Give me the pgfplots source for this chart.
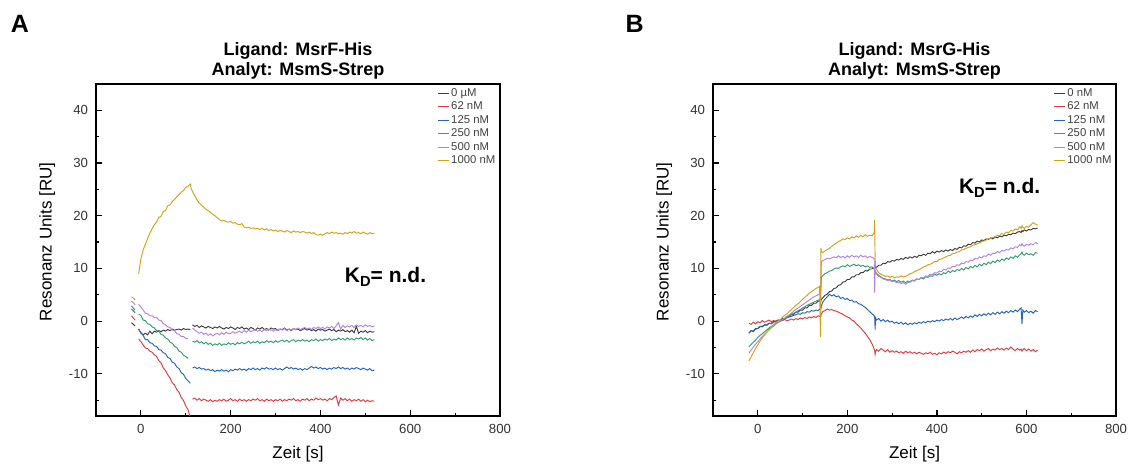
\documentclass[border=0pt]{standalone}
\usepackage{pgfplots}
\pgfplotsset{compat=1.18}
\usepackage{pgfplotstable}
\usepackage{fontspec}
\setmainfont{Liberation Sans}
\newcommand\fs[1]{\fontsize{#1}{#1}\selectfont}
\definecolor{ck}{HTML}{3C3C3C}
\definecolor{cr}{HTML}{E0393E}
\definecolor{cb}{HTML}{2262C2}
\definecolor{cg}{HTML}{2E9E6B}
\definecolor{cp}{HTML}{B480E4}
\definecolor{cy}{HTML}{D4A017}

\pgfplotstableread{
t k0 k62 k125 k250 k500 k1000
-21 -0.3 1.0 2.3 2.9 3.8 4.6
-17 -0.6 0.6 2.0 2.5 3.5 4.4
-13 -0.9 0.2 1.6 2.1 3.1 4.0
-9 nan nan nan nan nan nan
-5 -1.5 -3.4 -1.5 1.3 3.2 9.0
0 -2.2 -3.9 -2.3 1.1 2.7 11.8
5 -2.6 -4.5 -2.7 0.2 2.1 13.5
10 -2.3 -5.1 -3.5 0.1 1.5 14.6
15 -2.6 -5.2 -3.5 -0.5 1.4 15.7
20 -1.9 -5.7 -4.1 -0.6 1.0 16.7
25 -2.4 -5.9 -4.2 -1.1 1.0 17.5
30 -1.9 -6.4 -4.7 -1.3 0.7 18.3
35 -2.1 -6.7 -4.8 -1.8 0.7 18.8
40 -1.8 -7.5 -5.4 -1.9 0.2 19.7
45 -2.0 -7.9 -5.5 -2.5 0.1 19.9
50 -1.7 -8.9 -6.0 -2.7 -0.5 20.8
55 -1.9 -9.4 -6.2 -3.2 -0.7 21.0
60 -1.6 -10.2 -6.9 -3.4 -1.1 21.9
65 -1.8 -10.8 -7.1 -4.0 -1.2 22.1
70 -1.5 -11.7 -7.8 -4.2 -1.7 22.7
75 -1.7 -12.1 -8.0 -4.8 -1.8 23.1
80 -1.6 -13.0 -8.7 -5.0 -2.4 23.6
85 -1.5 -13.5 -9.0 -5.7 -2.5 24.0
90 -1.7 -14.5 -9.8 -5.9 -2.9 24.5
95 -1.4 -15.1 -10.1 -6.5 -2.9 24.8
100 -1.6 -16.1 -10.9 -6.7 -3.3 25.4
105 -1.5 -16.8 -11.3 -7.1 -3.3 25.6
110 -1.6 -18.3 -11.8 nan nan 26.0
112 nan nan nan nan nan 25.2
115 -0.7 -14.8 -8.9 -3.8 -1.3 24.6
120 -1.0 -14.6 -8.7 -4.0 -1.7 23.8
125 -0.8 -15.0 -9.0 -3.7 -2.0 23.0
130 -1.2 -14.7 -8.8 -4.1 -2.3 22.4
135 -0.9 -15.1 -9.1 -3.9 -2.1 22.0
140 -1.1 -14.8 -9.0 -4.3 -2.5 21.6
145 -1.3 -15.0 -9.3 -4.0 -2.3 21.2
150 -1.0 -15.2 -9.1 -4.4 -2.7 21.0
155 -1.2 -14.9 -9.4 -4.2 -2.4 20.6
160 -1.4 -15.3 -9.2 -4.6 -2.8 20.3
165 -1.1 -15.0 -9.6 -4.3 -2.5 20.0
170 -1.3 -15.2 -9.3 -4.5 -2.3 19.6
175 -1.0 -14.9 -9.5 -4.2 -2.6 19.3
180 -1.3 -15.1 -9.2 -4.6 -2.2 19.0
185 -1.5 -14.8 -9.5 -4.3 -2.5 19.1
190 -1.2 -15.2 -9.3 -4.5 -2.1 18.9
195 -1.4 -15.0 -9.6 -4.1 -2.4 18.8
200 -1.1 -14.7 -9.2 -4.4 -2.3 18.9
205 -1.3 -15.1 -9.4 -4.2 -2.0 18.6
210 -1.6 -14.9 -9.1 -4.5 -2.3 18.7
215 -1.2 -15.2 -9.3 -4.1 -2.1 18.4
220 -1.4 -14.8 -9.0 -4.3 -1.9 18.3
225 -1.1 -15.1 -9.3 -4.0 -2.2 18.5
230 -1.5 -14.9 -9.1 -4.3 -1.8 17.9
235 -1.3 -15.2 -9.4 -4.1 -2.1 17.7
240 -1.6 -14.9 -9.0 -3.8 -1.7 17.8
245 -1.2 -15.1 -9.2 -4.2 -2.0 17.6
250 -1.4 -14.8 -8.9 -3.9 -1.8 17.7
255 -1.7 -15.0 -9.2 -4.1 -1.6 17.5
260 -1.3 -14.7 -9.0 -3.8 -1.9 17.6
265 -1.5 -15.1 -9.3 -4.2 -1.7 17.4
270 -1.2 -14.9 -8.9 -3.9 -2.0 17.6
275 -1.6 -15.2 -9.1 -4.1 -1.6 17.3
280 -1.4 -14.8 -8.8 -3.7 -1.8 17.5
285 -1.7 -15.1 -9.1 -4.0 -1.5 17.2
290 -1.3 -14.9 -9.0 -3.8 -1.7 17.4
295 -1.5 -15.2 -9.2 -4.1 -1.9 17.1
300 -1.4 -14.9 -8.9 -3.7 -1.6 17.3
305 -1.8 -15.1 -9.2 -4.0 -1.8 17.0
310 -1.5 -14.8 -9.0 -3.8 -1.5 17.2
315 -1.6 -15.2 -9.3 -3.6 -1.7 17.1
320 -1.3 -14.9 -9.0 -3.9 -1.4 16.9
325 -1.7 -15.1 -8.7 -3.6 -1.8 17.2
330 -1.5 -14.8 -9.0 -4.0 -1.5 17.0
335 -1.8 -15.0 -8.8 -3.7 -1.7 16.8
340 -1.4 -14.7 -9.1 -3.5 -1.4 17.1
345 -1.6 -15.1 -8.9 -3.9 -1.6 16.9
350 -1.5 -14.9 -9.2 -3.6 -1.3 17.0
355 -1.8 -15.2 -9.0 -3.8 -1.6 16.8
360 -1.6 -14.8 -9.3 -3.5 -1.4 17.0
365 -1.4 -15.0 -9.0 -3.8 -1.2 16.9
370 -1.7 -14.7 -9.2 -3.6 -1.5 16.7
375 -1.5 -15.1 -8.9 -3.9 -1.3 16.9
380 -1.8 -14.8 -8.6 -3.5 -1.6 16.6
385 -1.6 -15.0 -8.9 -3.7 -1.2 16.8
390 -1.9 -14.6 -8.7 -3.4 -1.4 16.4
395 -1.5 -14.9 -9.0 -3.8 -1.1 16.3
400 -1.7 -14.7 -8.8 -3.5 -1.4 16.5
405 -1.6 -15.0 -9.1 -3.7 -1.2 16.3
410 -1.9 -14.8 -8.9 -3.4 -1.5 16.6
415 -1.7 -15.1 -9.2 -3.6 -1.1 16.8
420 -1.5 -14.7 -8.9 -3.3 -1.3 16.6
425 -1.8 -14.9 -9.1 -3.7 -1.0 16.9
430 -1.6 -14.5 -8.8 -3.4 -1.4 16.7
435 -2.0 -14.2 -9.0 -3.6 -0.9 16.8
440 -1.7 -15.9 -8.7 -3.2 -0.3 16.6
445 -1.9 -14.6 -9.0 -3.5 -1.5 16.7
450 -1.6 -15.0 -8.8 -3.3 -0.8 16.5
455 -2.0 -14.7 -9.1 -3.6 -1.2 16.8
460 -1.8 -15.1 -8.9 -3.2 -0.9 16.6
465 -2.1 -14.8 -9.2 -3.5 -1.1 16.9
470 -1.7 -15.2 -8.9 -3.3 -0.8 16.7
475 -2.2 -14.9 -9.1 -3.6 -1.2 17.0
480 -1.0 -15.1 -8.8 -3.2 -0.7 16.7
485 -2.3 -14.8 -9.0 -3.4 -1.0 16.8
490 -1.9 -15.2 -9.2 -3.1 -0.8 16.6
495 -2.1 -14.9 -8.9 -3.5 -1.1 16.9
500 -1.8 -15.3 -9.1 -3.2 -0.7 16.7
505 -2.2 -15.0 -9.3 -3.6 -1.0 16.5
510 -1.9 -15.3 -9.0 -3.3 -0.8 16.8
515 -2.1 -15.1 -9.4 -3.7 -1.1 16.6
520 -2.0 -15.2 -9.3 -3.5 -0.9 16.6
}\dataA

\pgfplotstableread{
t k0 k62 k125 k250 k500 k1000
-20 -2.3 -0.4 -2.3 -4.9 -6.1 -7.6
-15 -1.8 -0.6 -1.8 -4.4 -5.5 -6.8
-10 -1.9 -0.2 -2.0 -4.0 -4.9 -6.0
-5 -1.4 -0.5 -1.5 -3.6 -4.4 -5.2
0 -1.4 -0.1 -1.4 -3.1 -3.9 -4.5
5 -1.0 -0.3 -1.0 -2.7 -3.4 -3.8
10 -1.0 0.1 -1.1 -2.4 -2.9 -3.2
15 -0.7 -0.2 -0.7 -2.0 -2.5 -2.6
20 -0.7 0.0 -0.8 -1.7 -2.1 -2.1
25 -0.4 0.2 -0.4 -1.3 -1.7 -1.6
30 -0.4 -0.1 -0.5 -1.0 -1.3 -1.1
35 -0.1 0.1 -0.2 -0.7 -1.0 -0.7
40 -0.1 0.0 0.0 -0.4 -0.6 -0.3
45 0.2 0.2 0.1 -0.2 -0.3 0.0
50 0.2 0.0 0.2 0.0 0.0 0.3
55 0.5 0.1 0.3 0.2 0.3 0.7
60 0.5 0.3 0.5 0.5 0.6 1.1
65 0.9 0.1 0.6 0.7 0.9 1.4
70 0.9 0.2 0.8 1.0 1.2 1.8
75 1.3 0.4 0.9 1.2 1.5 2.2
80 1.3 0.2 1.1 1.5 1.9 2.6
85 1.7 0.5 1.2 1.7 2.2 3.0
90 1.7 0.3 1.4 2.0 2.5 3.3
95 2.1 0.6 1.3 2.2 2.8 3.7
100 2.1 0.4 1.6 2.5 3.1 4.1
105 2.5 0.7 1.5 2.7 3.4 4.5
110 2.5 0.5 1.8 3.0 3.7 4.9
115 3.0 0.8 1.7 3.2 4.0 5.3
120 3.0 0.6 2.0 3.4 4.3 5.6
125 3.4 0.9 1.9 3.6 4.6 5.9
130 3.4 0.7 2.1 3.8 4.8 6.2
135 3.8 1.0 2.0 4.0 5.0 6.4
138 3.8 0.9 2.3 4.1 5.2 6.6
140 4.1 1.1 2.2 4.3 5.3 -3.0
141 3.9 1.0 2.4 6.0 8.0 13.9
142 4.2 1.4 2.9 8.4 11.3 13.2
145 4.4 1.8 3.6 8.6 11.5 13.0
150 4.9 2.0 4.2 9.0 11.7 13.3
155 5.1 2.3 4.6 9.2 11.9 13.6
160 5.6 2.1 5.1 9.5 11.8 13.8
165 5.7 2.2 4.8 9.6 12.0 14.2
170 6.2 2.0 5.0 9.9 12.2 14.5
175 6.3 1.9 4.6 10.1 12.0 14.8
180 6.8 1.7 4.8 10.0 12.4 15.1
185 6.9 1.5 4.3 10.3 12.1 15.3
190 7.4 1.3 4.5 10.5 12.3 15.6
195 7.5 1.0 4.1 10.3 12.0 15.5
200 7.9 0.8 4.3 10.7 12.4 15.8
205 7.9 0.6 3.9 10.4 12.1 15.6
210 8.4 0.2 4.0 10.6 12.5 16.0
215 8.4 0.0 3.6 10.8 12.2 15.8
220 8.8 -0.5 3.7 10.5 12.4 16.2
225 8.8 -0.9 3.3 10.7 12.1 15.9
230 9.2 -1.3 3.2 10.4 12.5 16.3
235 9.2 -1.8 2.9 10.6 12.2 16.0
240 9.6 -2.3 2.6 10.3 12.4 16.4
245 9.5 -2.9 2.2 10.5 12.0 16.1
250 9.9 -3.5 1.8 10.2 12.3 16.3
255 9.9 -4.3 1.4 10.3 12.1 16.2
258 10.1 -4.9 1.2 10.0 12.0 16.5
260 10.0 -5.4 1.0 9.9 11.8 16.8
261 10.2 -5.6 0.8 9.8 5.4 19.2
262 10.1 -6.3 -1.6 9.6 9.5 12.0
263 10.3 -5.8 0.6 9.4 9.2 10.5
265 10.2 -5.4 0.2 9.1 8.9 9.8
270 10.6 -5.7 0.5 8.7 8.5 9.2
275 10.6 -5.2 0.0 8.4 8.3 8.9
280 11.0 -5.5 0.3 8.1 8.0 8.7
285 10.9 -5.8 -0.1 8.0 7.9 8.5
290 11.3 -5.4 0.2 7.8 7.7 8.6
295 11.2 -5.9 -0.2 7.9 7.8 8.3
300 11.5 -5.6 0.0 7.6 7.5 8.5
305 11.4 -5.9 -0.4 7.8 7.6 8.2
310 11.7 -5.7 -0.2 7.5 7.3 8.4
315 11.6 -6.0 -0.5 7.7 7.4 8.3
320 11.9 -5.8 -0.2 7.4 7.1 8.6
325 11.7 -6.1 -0.6 7.6 7.3 8.4
330 12.1 -5.7 -0.3 7.3 7.0 8.5
335 11.9 -6.0 -0.7 7.6 7.3 8.7
340 12.2 -5.8 -0.4 7.5 7.4 9.0
345 12.0 -6.1 -0.6 7.8 7.7 9.1
350 12.3 -5.9 -0.3 7.7 7.6 9.4
355 12.1 -6.2 -0.5 8.0 8.0 9.6
360 12.5 -5.9 -0.2 7.9 7.9 9.8
365 12.4 -6.1 -0.4 8.2 8.3 10.0
370 12.7 -6.3 -0.1 8.0 8.2 10.3
375 12.5 -6.0 -0.3 8.4 8.6 10.4
380 12.9 -6.2 0.0 8.3 8.5 10.7
385 12.8 -5.9 -0.2 8.6 8.9 10.8
390 13.2 -6.3 0.1 8.5 8.8 11.0
395 12.9 -6.1 -0.1 8.9 9.2 11.3
400 13.3 -6.4 0.2 8.7 9.1 11.3
405 13.1 -6.0 0.0 9.0 9.5 11.7
410 13.4 -6.2 0.3 8.8 9.4 11.8
415 13.2 -5.9 0.1 9.2 9.8 12.0
420 13.5 -6.1 0.4 9.0 9.7 12.2
425 13.3 -5.8 0.2 9.5 10.1 12.4
430 13.6 -6.0 0.5 9.2 10.0 12.5
435 13.4 -5.7 0.2 9.6 10.4 12.8
440 13.8 -5.9 0.6 9.4 10.3 12.9
445 13.6 -6.2 0.3 9.8 10.7 13.1
450 14.0 -5.8 0.5 9.6 10.6 13.2
455 13.9 -6.0 0.8 10.0 11.0 13.5
460 14.3 -5.7 0.5 9.7 10.9 13.6
465 14.2 -5.9 0.9 10.2 11.3 13.8
470 14.6 -5.6 0.6 9.9 11.2 14.0
475 14.5 -5.9 1.0 10.4 11.6 14.1
480 14.9 -5.5 0.7 10.1 11.5 14.4
485 14.8 -5.8 1.2 10.6 11.9 14.5
490 15.2 -5.4 0.9 10.3 11.8 14.7
495 15.0 -5.6 1.3 10.8 12.2 14.8
500 15.4 -5.3 1.0 10.5 12.0 15.1
505 15.3 -5.7 1.4 11.0 12.4 15.2
510 15.6 -5.4 1.1 10.7 12.3 15.4
515 15.5 -5.2 1.5 11.2 12.7 15.6
520 15.8 -5.6 1.2 10.9 12.5 15.7
525 15.6 -5.3 1.6 11.4 12.9 15.9
530 16.0 -5.5 1.3 11.1 12.8 16.0
535 15.8 -5.1 1.7 11.6 13.2 16.3
540 16.1 -5.4 1.4 11.3 13.0 16.2
545 16.0 -5.2 1.8 11.8 13.4 16.6
550 16.3 -5.5 1.5 11.5 13.3 16.5
555 16.2 -5.1 1.9 12.0 13.6 16.9
560 16.5 -5.4 1.6 11.7 13.5 16.8
565 16.4 -4.9 2.0 12.2 13.9 17.2
570 16.7 -5.3 1.7 11.9 13.7 17.1
575 16.6 -5.6 2.1 12.4 14.1 17.5
580 16.9 -5.2 1.8 12.1 14.0 17.3
585 17.0 -5.5 2.3 12.6 14.5 17.9
588 16.8 -5.3 2.5 12.8 14.3 17.6
590 17.2 -5.7 -0.5 13.1 14.7 18.1
592 17.0 -5.4 2.1 12.7 14.4 17.8
595 17.3 -5.2 1.7 12.5 14.2 17.6
600 17.1 -5.6 2.0 12.9 14.6 18.0
605 17.4 -5.3 1.6 12.6 14.4 17.8
610 17.3 -5.7 1.9 12.8 14.7 18.3
615 17.6 -5.4 1.5 12.5 14.5 18.7
620 17.5 -5.8 2.0 13.0 14.9 18.4
625 17.7 -5.5 1.8 12.9 14.7 18.2
}\dataB

\pgfplotsset{
  spr/.style={
    scale only axis, height=249pt, anchor=south west,
    xmin=-100, xmax=800, ymin=-18, ymax=45,
    xtick={0,200,400,600,800}, minor xtick={-100,100,300,500,700},
    ytick={-10,0,10,20,30,40}, minor ytick={-15,-5,5,15,25,35,45},
    tick align=inside, xtick pos=bottom, ytick pos=left,
    major tick length=4.5pt, minor tick length=2.5pt,
    axis line style={line width=0.9pt, black},
    every tick/.style={line width=0.9pt, black},
    ticklabel style={font=\fs{9.9}, text=black!80},
    xticklabel style={yshift=-2.5pt},
    yticklabel style={xshift=-2.5pt},
    /pgf/number format/assume math mode=true,
    unbounded coords=jump, clip mode=individual,
    legend cell align=left,
    legend style={draw=none, fill=none, anchor=north west, inner sep=0pt,
      font=\fs{8.5}, text=black!75, row sep=0pt, column sep=0.5pt,
      nodes={inner sep=1.1pt, text height=6.3pt, text depth=1.6pt}},
    legend image code/.code={\draw[#1, line width=0.6pt] (0pt,0pt) -- (8pt,0pt);},
    every axis plot/.append style={line width=0.7pt},
  }
}

\begin{document}
\begin{tikzpicture}
\path[use as bounding box] (0,0) rectangle (847.5pt,349.5pt);
\node[font=\bfseries\fs{18.75}] at (15pt,331.5pt) {A};
\node[font=\bfseries\fs{18.75}] at (475.9pt,331.5pt) {B};

\begin{axis}[spr, at={(72pt,37.5pt)}, width=303pt,
  legend style={at={(axis description cs:0.845,0.993)}}]
\addplot[ck] table[x=t,y=k0]{\dataA};
\addplot[cr] table[x=t,y=k62]{\dataA};
\addplot[cb] table[x=t,y=k125]{\dataA};
\addplot[cg] table[x=t,y=k250]{\dataA};
\addplot[cp] table[x=t,y=k500]{\dataA};
\addplot[cy] table[x=t,y=k1000]{\dataA};
\legend{0 µM, 62 nM, 125 nM, 250 nM, 500 nM, 1000 nM}
\node[font=\bfseries\fs{13.5}, anchor=base] at (axis description cs:0.5,1.0873) {Ligand: MsrF-His};
\node[font=\bfseries\fs{13.5}, anchor=base] at (axis description cs:0.5,1.0241) {Analyt: MsmS-Strep};
\node[font=\fs{12.75}, anchor=base] at (axis description cs:0.5,-0.1295) {Zeit [s]};
\node[font=\fs{12.75}, anchor=base, rotate=90] at (axis description cs:-0.11,0.525) {Resonanz Units [RU]};
\node[font=\bfseries\fs{15.75}] at (axis cs:545,8.4) {K\raisebox{-0.35ex}{\fs{11}D}= n.d.};
\end{axis}

\begin{axis}[spr, at={(534.75pt,37.5pt)}, width=302.25pt,
  legend style={at={(axis description cs:0.845,0.993)}}]
\addplot[ck] table[x=t,y=k0]{\dataB};
\addplot[cr] table[x=t,y=k62]{\dataB};
\addplot[cb] table[x=t,y=k125]{\dataB};
\addplot[cg] table[x=t,y=k250]{\dataB};
\addplot[cp] table[x=t,y=k500]{\dataB};
\addplot[cy] table[x=t,y=k1000]{\dataB};
\legend{0 nM, 62 nM, 125 nM, 250 nM, 500 nM, 1000 nM}
\node[font=\bfseries\fs{13.5}, anchor=base] at (axis description cs:0.5,1.0873) {Ligand: MsrG-His};
\node[font=\bfseries\fs{13.5}, anchor=base] at (axis description cs:0.5,1.0241) {Analyt: MsmS-Strep};
\node[font=\fs{12.75}, anchor=base] at (axis description cs:0.5,-0.1295) {Zeit [s]};
\node[font=\fs{12.75}, anchor=base, rotate=90] at (axis description cs:-0.11,0.525) {Resonanz Units [RU]};
\node[font=\bfseries\fs{15.75}] at (axis cs:540,25.3) {K\raisebox{-0.35ex}{\fs{11}D}= n.d.};
\end{axis}
\end{tikzpicture}
\end{document}
